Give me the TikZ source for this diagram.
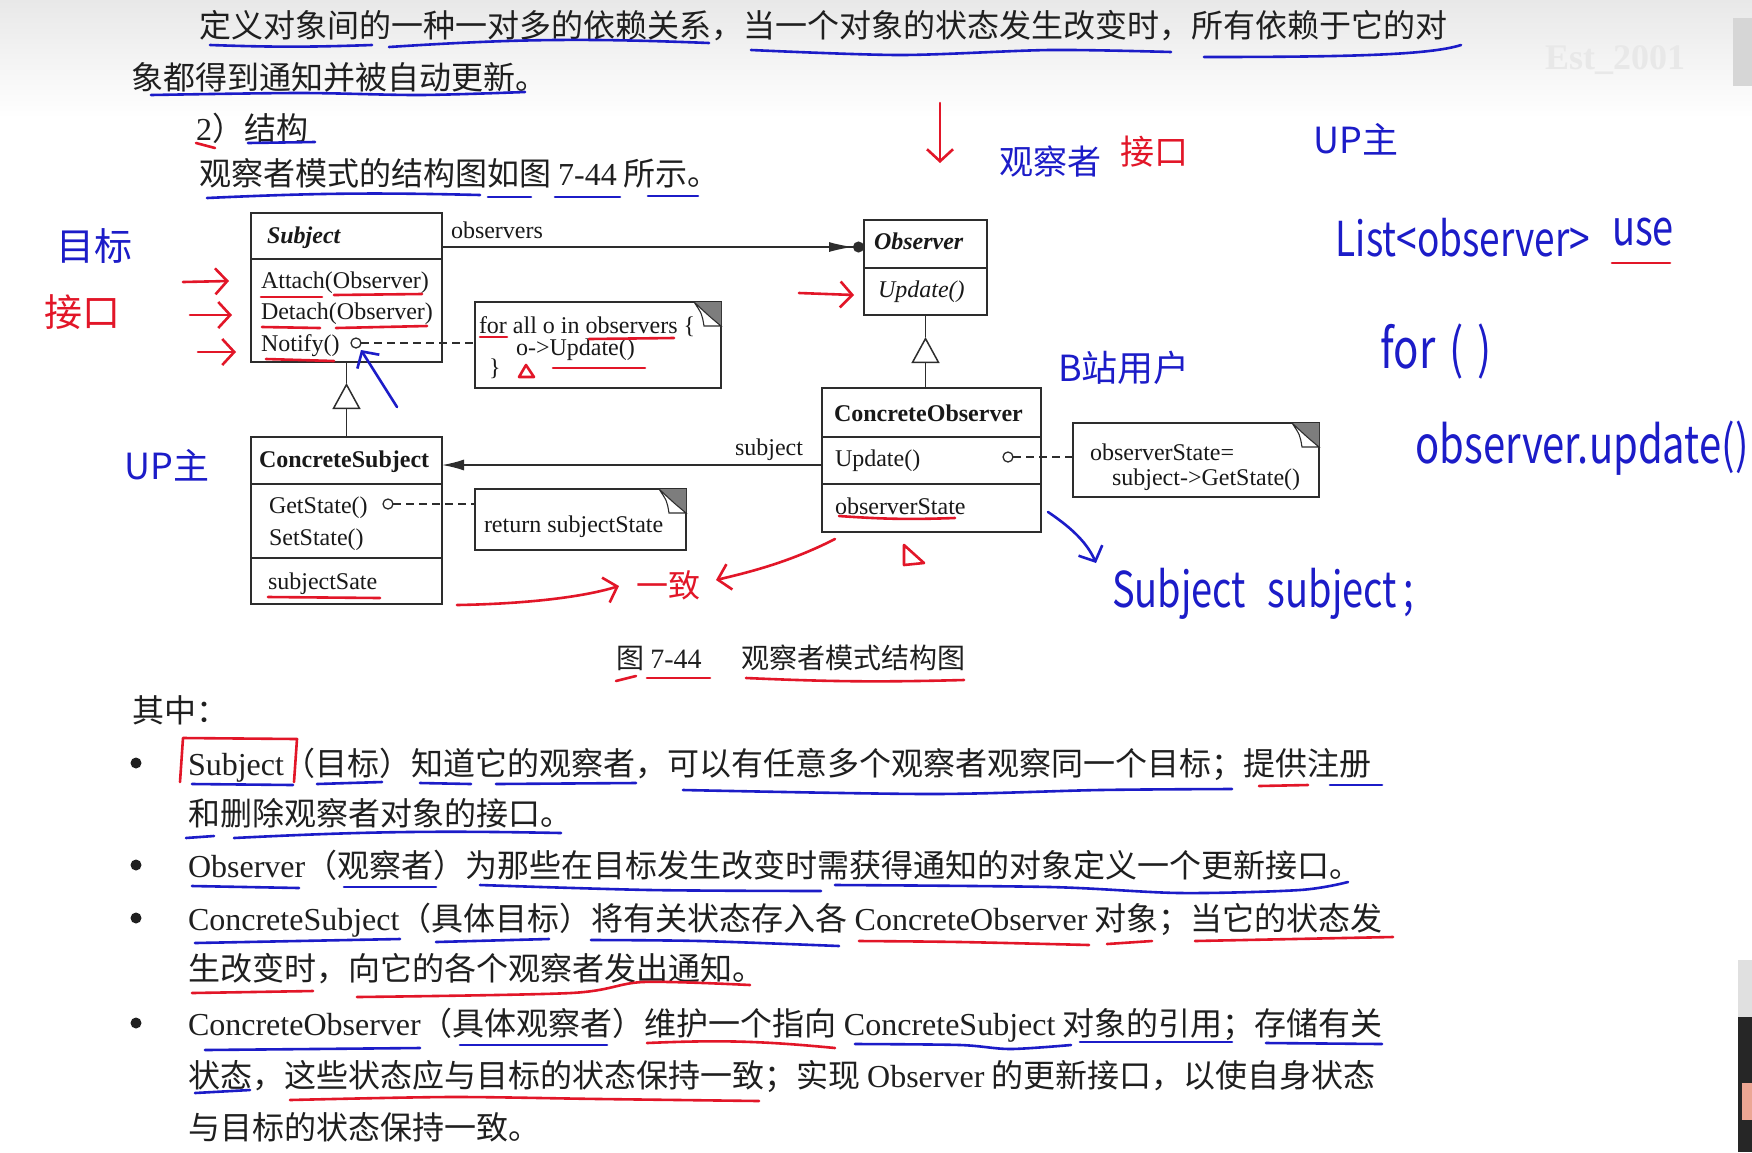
\documentclass[tikz,border=0pt]{standalone}
\usepackage{fontspec}
\setmainfont{Noto Sans CJK SC}
\newfontfamily\en{Liberation Serif}
\newfontfamily\handfont{Noto Sans CJK SC}
\usetikzlibrary{arrows.meta, calc}
\definecolor{hb}{RGB}{28,28,200}
\definecolor{hr}{RGB}{226,22,40}
\definecolor{umlline}{RGB}{45,45,45}
\definecolor{foldgray}{RGB}{125,125,125}
\newcommand{\tall}[1]{\scalebox{1}[1.3]{#1}}
\newcommand{\notefold}[1]{%
  \fill[foldgray] ($(#1.north east)+(-27,0)$) -- (#1.north east) -- ($(#1.north east)+(0,24)$) -- cycle;
  \draw[umlline, line width=1.1pt, fill=white] ($(#1.north east)+(-27,0)$) .. controls ($(#1.north east)+(-19,12)$) .. ($(#1.north east)+(-17,24)$) -- ($(#1.north east)+(0,24)$) .. controls ($(#1.north east)+(-12,14)$) .. ($(#1.north east)+(-27,0)$);
}

\begin{document}
\begin{tikzpicture}[x=1pt, y=-1pt,
    every node/.style={inner sep=0pt, outer sep=0pt},
    body/.style={anchor=base west, font=\fontsize{32}{38}\selectfont, text=black!88},
    uml/.style={anchor=base west, font=\en\fontsize{24}{28}\selectfont, text=black!90},
    cls/.style={draw=umlline, line width=1.8pt, fill=white},
    divline/.style={draw=umlline, line width=1.6pt},
    assoc/.style={draw=umlline, line width=1.5pt},
    inh/.style={draw=umlline, line width=1.5pt, -{Triangle[open, length=26pt, width=28pt, fill=white]}},
    dashln/.style={draw=umlline, line width=1.4pt, dash pattern=on 8pt off 5pt},
    pin/.style={circle, draw=umlline, line width=1.3pt, fill=white, minimum size=10pt},
    bul/.style={circle, fill=black!88, minimum size=11pt},
    hw/.style={font=\handfont\fontsize{#1}{#1}\selectfont},
    hw/.default=38,
    hul/.style={line width=2.6pt, line cap=round, line join=round},
    harr/.style={line width=2.6pt, line cap=round, line join=round, -{Straight Barb[length=12pt, width=26pt]}}
  ]
  \useasboundingbox (0,0) rectangle (1752,1152);
  \fill[white] (0,0) rectangle (1752,1152);
  \fill[top color=black!9, bottom color=white] (0,0) rectangle (1752,118);
  \node[font=\en\bfseries\fontsize{36}{36}\selectfont, text=black!9] (wm) at (1615,60) {Est\_2001};
  \fill[black!16] (1733,18) rectangle (1752,86);
  \fill[black!12] (1738,960) rectangle (1752,1017);
  \fill[black!85] (1738,1017) rectangle (1752,1152);
  \fill[brown!60!red!50] (1742,1083) rectangle (1752,1120);

  % text above the diagram
  \node[body] (l1) at (199,37) {定义对象间的一种一对多的依赖关系，当一个对象的状态发生改变时，所有依赖于它的对};
  \node[body] (l2) at (131,89) {象都得到通知并被自动更新。};
  \node[body] (l3) at (196,140) {{\en 2}）结构};
  \node[body] (l4) at (199,185) {观察者模式的结构图如图 {\en 7-44} 所示。};

  % classes
  \node[cls, minimum width=191pt, minimum height=149pt] (subj) at (346.5,287.5) {};
  \node[cls, minimum width=123pt, minimum height=95pt] (obs) at (925.5,267.5) {};
  \node[cls, minimum width=191pt, minimum height=167pt] (csubj) at (346.5,520.5) {};
  \node[cls, minimum width=219pt, minimum height=144pt] (cobs) at (931.5,460) {};
  \draw[divline] ($(subj.north west)+(0,46)$) -- ($(subj.north east)+(0,46)$);
  \draw[divline] ($(obs.north west)+(0,48)$) -- ($(obs.north east)+(0,48)$);
  \draw[divline] ($(csubj.north west)+(0,47)$) -- ($(csubj.north east)+(0,47)$);
  \draw[divline] ($(csubj.north west)+(0,121)$) -- ($(csubj.north east)+(0,121)$);
  \draw[divline] ($(cobs.north west)+(0,49)$) -- ($(cobs.north east)+(0,49)$);
  \draw[divline] ($(cobs.north west)+(0,96)$) -- ($(cobs.north east)+(0,96)$);

  \node[uml, font=\en\bfseries\itshape\fontsize{24}{28}\selectfont] (subjT) at (267,243) {Subject};
  \node[uml] (attach) at (261,288) {Attach(Observer)};
  \node[uml] (detach) at (261,319) {Detach(Observer)};
  \node[uml] (notify) at (261,351) {Notify()};
  \node[uml, font=\en\bfseries\itshape\fontsize{24}{28}\selectfont] (obsT) at (874,249) {Observer};
  \node[uml, font=\en\itshape\fontsize{24}{28}\selectfont] (obsU) at (878,297) {Update()};
  \node[uml, font=\en\bfseries\fontsize{24}{28}\selectfont] (csubjT) at (259,467) {ConcreteSubject};
  \node[uml] (getst) at (269,513) {GetState()};
  \node[uml] (setst) at (269,545) {SetState()};
  \node[uml] (sstate) at (268,589) {subjectSate};
  \node[uml, font=\en\bfseries\fontsize{24}{28}\selectfont] (cobsT) at (834,421) {ConcreteObserver};
  \node[uml] (cobsU) at (835,466) {Update()};
  \node[uml] (ostate) at (835,514) {observerState};

  % notes
  \node[cls, minimum width=246pt, minimum height=86pt] (n1) at (598,345) {};
  \node[cls, minimum width=211pt, minimum height=61pt] (n2) at (580.5,519.5) {};
  \node[cls, minimum width=246pt, minimum height=74pt] (n3) at (1196,460) {};
  \notefold{n1}
  \notefold{n2}
  \notefold{n3}
  \node[uml] (n1a) at (479,333) {for all o in observers \{};
  \node[uml] (n1b) at (516,355) {o->Update()};
  \node[uml] (n1c) at (489,375) {\}};
  \node[uml] (n2a) at (484,532) {return subjectState};
  \node[uml] (n3a) at (1090,460) {observerState=};
  \node[uml] (n3b) at (1112,485) {subject->GetState()};

  % connectors
  \path (subj.north east) ++(0,34) coordinate (obsA);
  \draw[assoc, -{Latex[length=24pt, width=10pt] Circle[length=11pt]}] (obsA) -- (obsA -| obs.west);
  \node[uml] (obsL) at ($(obsA)+(9,-9)$) {observers};
  \path (cobs.north west) ++(0,77) coordinate (subA);
  \draw[assoc, -{Latex[length=22pt, width=11pt]}] (subA) -- (subA -| csubj.east);
  \node[uml, anchor=base east] (subL) at ($(subA)+(-19,-10)$) {subject};
  \draw[inh] (csubj.north) -- ($(subj.south)+(0,21)$);
  \draw[assoc] (subj.south) -- ++(0,21);
  \draw[inh] (obs.south |- cobs.north) -- ($(obs.south)+(0,22)$);
  \draw[assoc] (obs.south) -- ++(0,22);
  \node[pin] (c1) at (356,343) {};
  \node[pin] (c2) at (388,504) {};
  \node[pin] (c3) at (1008,457) {};
  \draw[dashln] (c1.east) -- (c1 -| n1.west);
  \draw[dashln] (c2.east) -- (c2 -| n2.west);
  \draw[dashln] (c3.east) -- (c3 -| n3.west);

  % caption and list
  \node[body, font=\fontsize{28}{32}\selectfont] (cap) at (616,668) {图 {\en 7-44}\hspace{40pt}观察者模式结构图};
  \node[body] (q) at (132,722) {其中：};
  \node[bul] (b1) at (136,763) {};
  \node[bul] (b2) at (136,865) {};
  \node[bul] (b3) at (136,918) {};
  \node[bul] (b4) at (136,1023) {};
  \node[body] (t1a) at (188,775) {{\en Subject}（目标）知道它的观察者，可以有任意多个观察者观察同一个目标；提供注册};
  \node[body] (t1b) at (188,825) {和删除观察者对象的接口。};
  \node[body] (t2a) at (188,877) {{\en Observer}（观察者）为那些在目标发生改变时需获得通知的对象定义一个更新接口。};
  \node[body] (t3a) at (188,930) {{\en ConcreteSubject}（具体目标）将有关状态存入各 {\en ConcreteObserver} 对象；当它的状态发};
  \node[body] (t3b) at (188,980) {生改变时，向它的各个观察者发出通知。};
  \node[body] (t4a) at (188,1035) {{\en ConcreteObserver}（具体观察者）维护一个指向 {\en ConcreteSubject} 对象的引用；存储有关};
  \node[body] (t4b) at (188,1087) {状态，这些状态应与目标的状态保持一致；实现 {\en Observer} 的更新接口，以使自身状态};
  \node[body] (t4c) at (188,1139) {与目标的状态保持一致。};

  % handwriting
  \node[hw, text=hb] (hw1) at (94,246) {目标};
  \node[hw, text=hr] (hw2) at (82,312) {接口};
  \node[hw=36, text=hb] (hw3) at (167,465) {UP主};
  \node[hw=34, text=hb] (hw4) at (1050,162) {观察者};
  \node[hw=34, text=hr] (hw5) at (1154,152) {接口};
  \node[hw=36, text=hb] (hw6) at (1356,139) {UP主};
  \node[hw=37, text=hb] (hw7) at (1463,238) {\tall{List<observer>}};
  \node[hw=38, text=hb] (hw8) at (1643,232) {\tall{use}};
  \node[hw=42, text=hb] (hw9) at (1436,352) {\tall{for\hspace{14pt}(\hspace{14pt})}};
  \node[hw=40, text=hb] (hw10) at (1582,448) {\tall{observer.update()}};
  \node[hw=36, text=hb] (hw11) at (1124,368) {B站用户};
  \node[hw=38, text=hb] (hw12) at (1263,594) {\tall{Subject\hspace{22pt}subject\,;}};
  \node[hw=32, text=hr] (hw13) at (668,585) {一致};

  \draw[harr, hr] (183,282) -- (229,281);
  \draw[harr, hr] (190,315) -- (232,315);
  \draw[harr, hr] (198,352) -- (236,352);
  \draw[harr, hb] (397,407) -- (361,350);
  \draw[harr, hr] (940,103) -- (940,163);
  \draw[harr, hr] (799,293) -- (854,295);
  \draw[harr, hb] (1048,512) .. controls (1075,530) and (1088,545) .. (1096,563);
  \draw[harr, hr] (457,605) .. controls (520,604) and (580,598) .. (619,586);
  \draw[harr, hr] (835,539) .. controls (790,562) and (750,572) .. (716,580);
  \draw[hul, hr] (526,365) -- (519,377) -- (534,377) -- cycle;
  \draw[hul, hr] (904,545) -- (904,565) -- (924,563) -- cycle;
  \draw[hul, hr] (180,782) -- (183,738) -- (297,739) -- (294,782);

  % underlines
  \draw[hul, hb] (210,45) to[bend right=2] (372,45);
  \draw[hul, hb] (389,47) to[bend left=3] (709,43);
  \draw[hul, hb] plot[smooth] coordinates {(751,50) (900,55) (1050,50) (1171,52)};
  \draw[hul, hb] (1204,57) .. controls (1350,57) and (1430,55) .. (1461,45);
  \draw[hul, hb] plot[smooth] coordinates {(151,95) (300,93) (420,95) (525,92)};
  \draw[hul, hr] (196,143) -- (215,148);
  \draw[hul, hb] (248,143) -- (315,142);
  \draw[hul, hb] (207,198) to[bend left=2] (480,195);
  \draw[hul, hb] (488,197) -- (531,197);
  \draw[hul, hb] (555,197) -- (620,197);
  \draw[hul, hb] (648,196) -- (698,196);
  \draw[hul, hr] (1612,263) -- (1670,263);

  \draw[hul, hr] (261,297) -- (322,297);
  \draw[hul, hr] (334,295) -- (422,294);
  \draw[hul, hr] (262,327) -- (320,328);
  \draw[hul, hr] (336,328) -- (427,326);
  \draw[hul, hr] (266,359) -- (334,361);
  \draw[hul, hr] (480,337) -- (507,337);
  \draw[hul, hr] (589,339) -- (674,338);
  \draw[hul, hr] (553,368) -- (645,368);
  \draw[hul, hr] (268,597) -- (380,598);
  \draw[hul, hr] (839,516) to[bend right=3] (955,518);

  \draw[hul, hr] (616,681) -- (636,676);
  \draw[hul, hr] (647,678) -- (710,678);
  \draw[hul, hr] (746,678) to[bend right=2] (964,680);

  \draw[hul, hb] (192,784) -- (293,785);
  \draw[hul, hb] (317,784) -- (382,782);
  \draw[hul, hb] (420,783) -- (471,784);
  \draw[hul, hb] (496,784) -- (636,783);
  \draw[hul, hb] plot[smooth] coordinates {(683,790) (930,794) (1100,790) (1232,789)};
  \draw[hul, hr] (1259,786) -- (1308,785);
  \draw[hul, hb] (1330,785) -- (1382,785);
  \draw[hul, hb] (186,838) -- (214,836);
  \draw[hul, hb] (234,838) to[bend left=2] (561,833);
  \draw[hul, hb] (192,886) -- (299,888);
  \draw[hul, hb] (344,887) -- (436,887);
  \draw[hul, hb] plot[smooth] coordinates {(480,885) (650,890) (821,891)};
  \draw[hul, hb] plot[smooth] coordinates {(835,885) (1050,887) (1180,893) (1300,890) (1348,882)};
  \draw[hul, hb] (195,943) -- (400,939);
  \draw[hul, hb] (436,942) -- (549,939);
  \draw[hul, hb] plot[smooth] coordinates {(591,940) (700,941) (839,946)};
  \draw[hul, hr] plot[smooth] coordinates {(859,941) (960,942) (1089,945)};
  \draw[hul, hr] (1107,944) -- (1152,941);
  \draw[hul, hr] (1195,941) -- (1393,937);
  \draw[hul, hr] (192,993) -- (313,991);
  \draw[hul, hr] plot[smooth] coordinates {(357,997) (571,993) (643,982) (750,985)};
  \draw[hul, hb] (205,1050) -- (420,1048);
  \draw[hul, hb] (460,1045) -- (607,1045);
  \draw[hul, hr] (647,1043) to[bend left=4] (835,1048);
  \draw[hul, hb] plot[smooth] coordinates {(855,1044) (960,1045) (1010,1049) (1071,1045)};
  \draw[hul, hb] (1080,1042) -- (1232,1042);
  \draw[hul, hb] (1266,1043) -- (1382,1044);
  \draw[hul, hb] (195,1093) -- (250,1090);
  \draw[hul, hr] plot[smooth] coordinates {(290,1100) (450,1097) (600,1099) (759,1101)};
\end{tikzpicture}
\end{document}
